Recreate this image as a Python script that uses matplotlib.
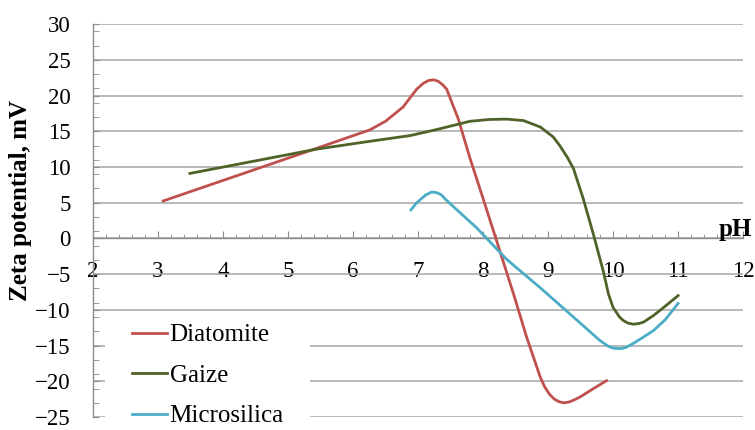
import matplotlib.pyplot as plt
from matplotlib.patches import Rectangle
from matplotlib.ticker import MultipleLocator, FixedLocator

# Zeta potential vs pH for three silica materials

diatomite_ph = [3.08, 5.34, 6.26, 6.5, 6.77, 6.98, 7.08, 7.16, 7.24, 7.31, 7.38, 7.44,
                7.62, 7.8, 8.0, 8.19, 8.47, 8.67, 8.88, 8.95, 9.03, 9.1, 9.17, 9.24,
                9.32, 9.4, 9.49, 9.7, 9.9]
diatomite_zeta = [5.25, 12.3, 15.2, 16.4, 18.4, 20.9, 21.7, 22.1, 22.2, 22.0, 21.5, 20.9,
                  16.7, 11.2, 5.6, 0.2, -7.8, -13.8, -19.4, -20.8, -21.9, -22.5, -22.85, -23.0,
                  -22.9, -22.6, -22.2, -21.0, -19.9]

gaize_ph = [3.49, 5.44, 6.26, 6.88, 7.29, 7.8, 8.1, 8.36, 8.62, 8.88, 9.08, 9.18, 9.3,
            9.39, 9.54, 9.7, 9.85, 9.93, 10.0, 10.1, 10.16, 10.23, 10.31, 10.4, 10.47,
            10.62, 10.8, 11.0]
gaize_zeta = [9.1, 12.5, 13.6, 14.4, 15.25, 16.4, 16.65, 16.7, 16.5, 15.6, 14.2, 13.0, 11.3,
              9.8, 5.6, 0.5, -4.6, -7.8, -9.65, -11.0, -11.5, -11.85, -12.0, -11.9, -11.7,
              -10.8, -9.5, -8.0]

microsilica_ph = [6.89, 6.97, 7.03, 7.12, 7.21, 7.29, 7.36, 7.42, 7.49, 7.9, 8.36, 8.88,
                  9.39, 9.8, 9.93, 10.0, 10.06, 10.13, 10.2, 10.31, 10.45, 10.62, 10.8, 11.0]
microsilica_zeta = [4.0, 4.9, 5.4, 6.1, 6.5, 6.4, 6.1, 5.5, 4.9, 1.5, -2.9, -6.9,
                    -11.0, -14.3, -15.1, -15.35, -15.4, -15.4, -15.25, -14.7, -13.9, -12.9, -11.4, -9.1]

plt.rcParams["font.family"] = ["Liberation Serif", "DejaVu Serif"]

fig = plt.figure(figsize=(7.55, 4.3), dpi=100)
ax = fig.add_axes([0.1232, 0.03, 0.861, 0.914])

ax.plot(diatomite_ph, diatomite_zeta, color="#C0504D", lw=2, label="Diatomite", zorder=4)
ax.plot(gaize_ph, gaize_zeta, color="#4F6228", lw=2, label="Gaize", zorder=4)
ax.plot(microsilica_ph, microsilica_zeta, color="#4BACC6", lw=2, label="Microsilica", zorder=4)

ax.set_xlim(2, 12)
ax.set_ylim(-25, 30)

ax.xaxis.set_major_locator(MultipleLocator(1))
ax.xaxis.set_minor_locator(MultipleLocator(0.2))
ax.yaxis.set_major_locator(MultipleLocator(5))
ax.yaxis.set_minor_locator(FixedLocator(range(-23, 30, 2)))

ax.spines["top"].set_visible(False)
ax.spines["right"].set_visible(False)
ax.spines["bottom"].set_position(("data", 0))
for s in ("left", "bottom"):
    ax.spines[s].set_color("#8c8c8c")
    ax.spines[s].set_linewidth(1.0)

ax.tick_params(axis="x", which="major", direction="in", length=5, color="#8c8c8c",
               labelsize=16.5, pad=16)
ax.tick_params(axis="x", which="minor", direction="in", length=3, color="#8c8c8c")
ax.tick_params(axis="y", which="major", direction="in", length=4, color="#8c8c8c",
               labelsize=16.5, pad=16)
ax.tick_params(axis="y", which="minor", direction="in", length=4, color="#8c8c8c")

ax.grid(axis="y", color="#a6a6a6", lw=1.1, zorder=0)
ax.set_axisbelow(True)

ax.set_ylabel("Zeta potential, mV", fontsize=18, fontweight="bold")
ax.yaxis.set_label_coords(-0.094, 0.55)

ax.text(11.62, 0.35, "pH", fontsize=18, fontweight="bold", ha="left", va="baseline",
        clip_on=False)

# white box behind the legend hides the gridlines
ax.add_patch(Rectangle((0.0185, -0.04), 0.315, 0.24, transform=ax.transAxes,
                       facecolor="white", edgecolor="none", zorder=2, clip_on=False))

ax.legend(loc="upper left", bbox_to_anchor=(0.06, 0.237), frameon=False, fontsize=18,
          handlelength=1.4, handletextpad=0.1, labelspacing=0.72, borderpad=0,
          borderaxespad=0)

fig.savefig("out.png", dpi=100)
